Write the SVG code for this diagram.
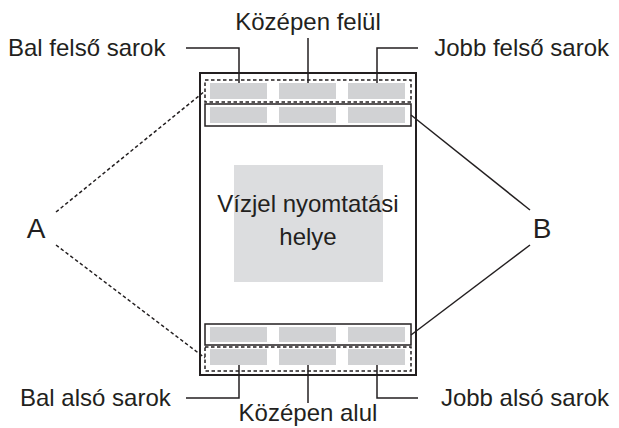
<svg xmlns="http://www.w3.org/2000/svg" width="619" height="428" viewBox="0 0 619 428">
<style>
text{font-family:"Liberation Sans",Arial,sans-serif;font-size:24px;fill:#231f20}
.big{font-size:28px}
.s{fill:none;stroke:#231f20;stroke-width:1.5}
.d{fill:none;stroke:#231f20;stroke-width:1.5;stroke-dasharray:3.5 2.5}
.g{fill:#d1d2d4}
</style>
<rect width="619" height="428" fill="#fff"/>
<g id="page">
<rect x="200" y="73" width="216" height="302" fill="#fff" stroke="#231f20" stroke-width="2"/>
<rect fill="#dcdddf" x="234" y="165" width="149" height="117"/>
<text x="308" y="212" text-anchor="middle">Vízjel nyomtatási</text>
<text x="308" y="245" text-anchor="middle">helye</text>
</g>
<g id="top-row-A">
<rect class="d" x="205" y="80" width="206" height="22"/>
<rect class="g" x="210" y="83" width="57" height="16"/>
<rect class="g" x="279" y="83" width="57" height="16"/>
<rect class="g" x="348" y="83" width="57" height="16"/>
</g>
<g id="top-row-B">
<rect class="s" x="205" y="104" width="206" height="22"/>
<rect class="g" x="210" y="107" width="57" height="16"/>
<rect class="g" x="279" y="107" width="57" height="16"/>
<rect class="g" x="348" y="107" width="57" height="16"/>
</g>
<g id="bottom-row-B">
<rect class="s" x="205" y="324" width="206" height="21"/>
<rect class="g" x="210" y="327" width="57" height="15"/>
<rect class="g" x="279" y="327" width="57" height="15"/>
<rect class="g" x="348" y="327" width="57" height="15"/>
</g>
<g id="bottom-row-A">
<rect class="d" x="205" y="347" width="206" height="24"/>
<rect class="g" x="210" y="349" width="57" height="16"/>
<rect class="g" x="279" y="349" width="57" height="16"/>
<rect class="g" x="348" y="349" width="57" height="16"/>
</g>
<g id="labels">
<text x="8" y="56">Bal felső sarok</text>
<text x="308" y="30" text-anchor="middle">Középen felül</text>
<text x="609" y="56" text-anchor="end">Jobb felső sarok</text>
<text x="20" y="406">Bal alsó sarok</text>
<text x="308" y="421" text-anchor="middle">Középen alul</text>
<text x="609" y="406" text-anchor="end">Jobb alsó sarok</text>
<text class="big" x="36" y="238" text-anchor="middle">A</text>
<text class="big" x="542" y="238" text-anchor="middle">B</text>
</g>
<g id="connectors">
<polyline class="s" points="186,48 239,48 239,83"/>
<line class="s" x1="308" y1="38" x2="308" y2="83"/>
<polyline class="s" points="418,48 377,48 377,83"/>
<polyline class="s" points="186,398 239,398 239,365"/>
<line class="s" x1="308" y1="403" x2="308" y2="365"/>
<polyline class="s" points="418,398 377,398 377,365"/>
<line class="d" x1="56" y1="212" x2="205" y2="91"/>
<line class="d" x1="56" y1="245" x2="205" y2="358"/>
<line class="s" x1="411" y1="115" x2="530" y2="210"/>
<line class="s" x1="411" y1="335" x2="530" y2="245"/>
</g>
</svg>
